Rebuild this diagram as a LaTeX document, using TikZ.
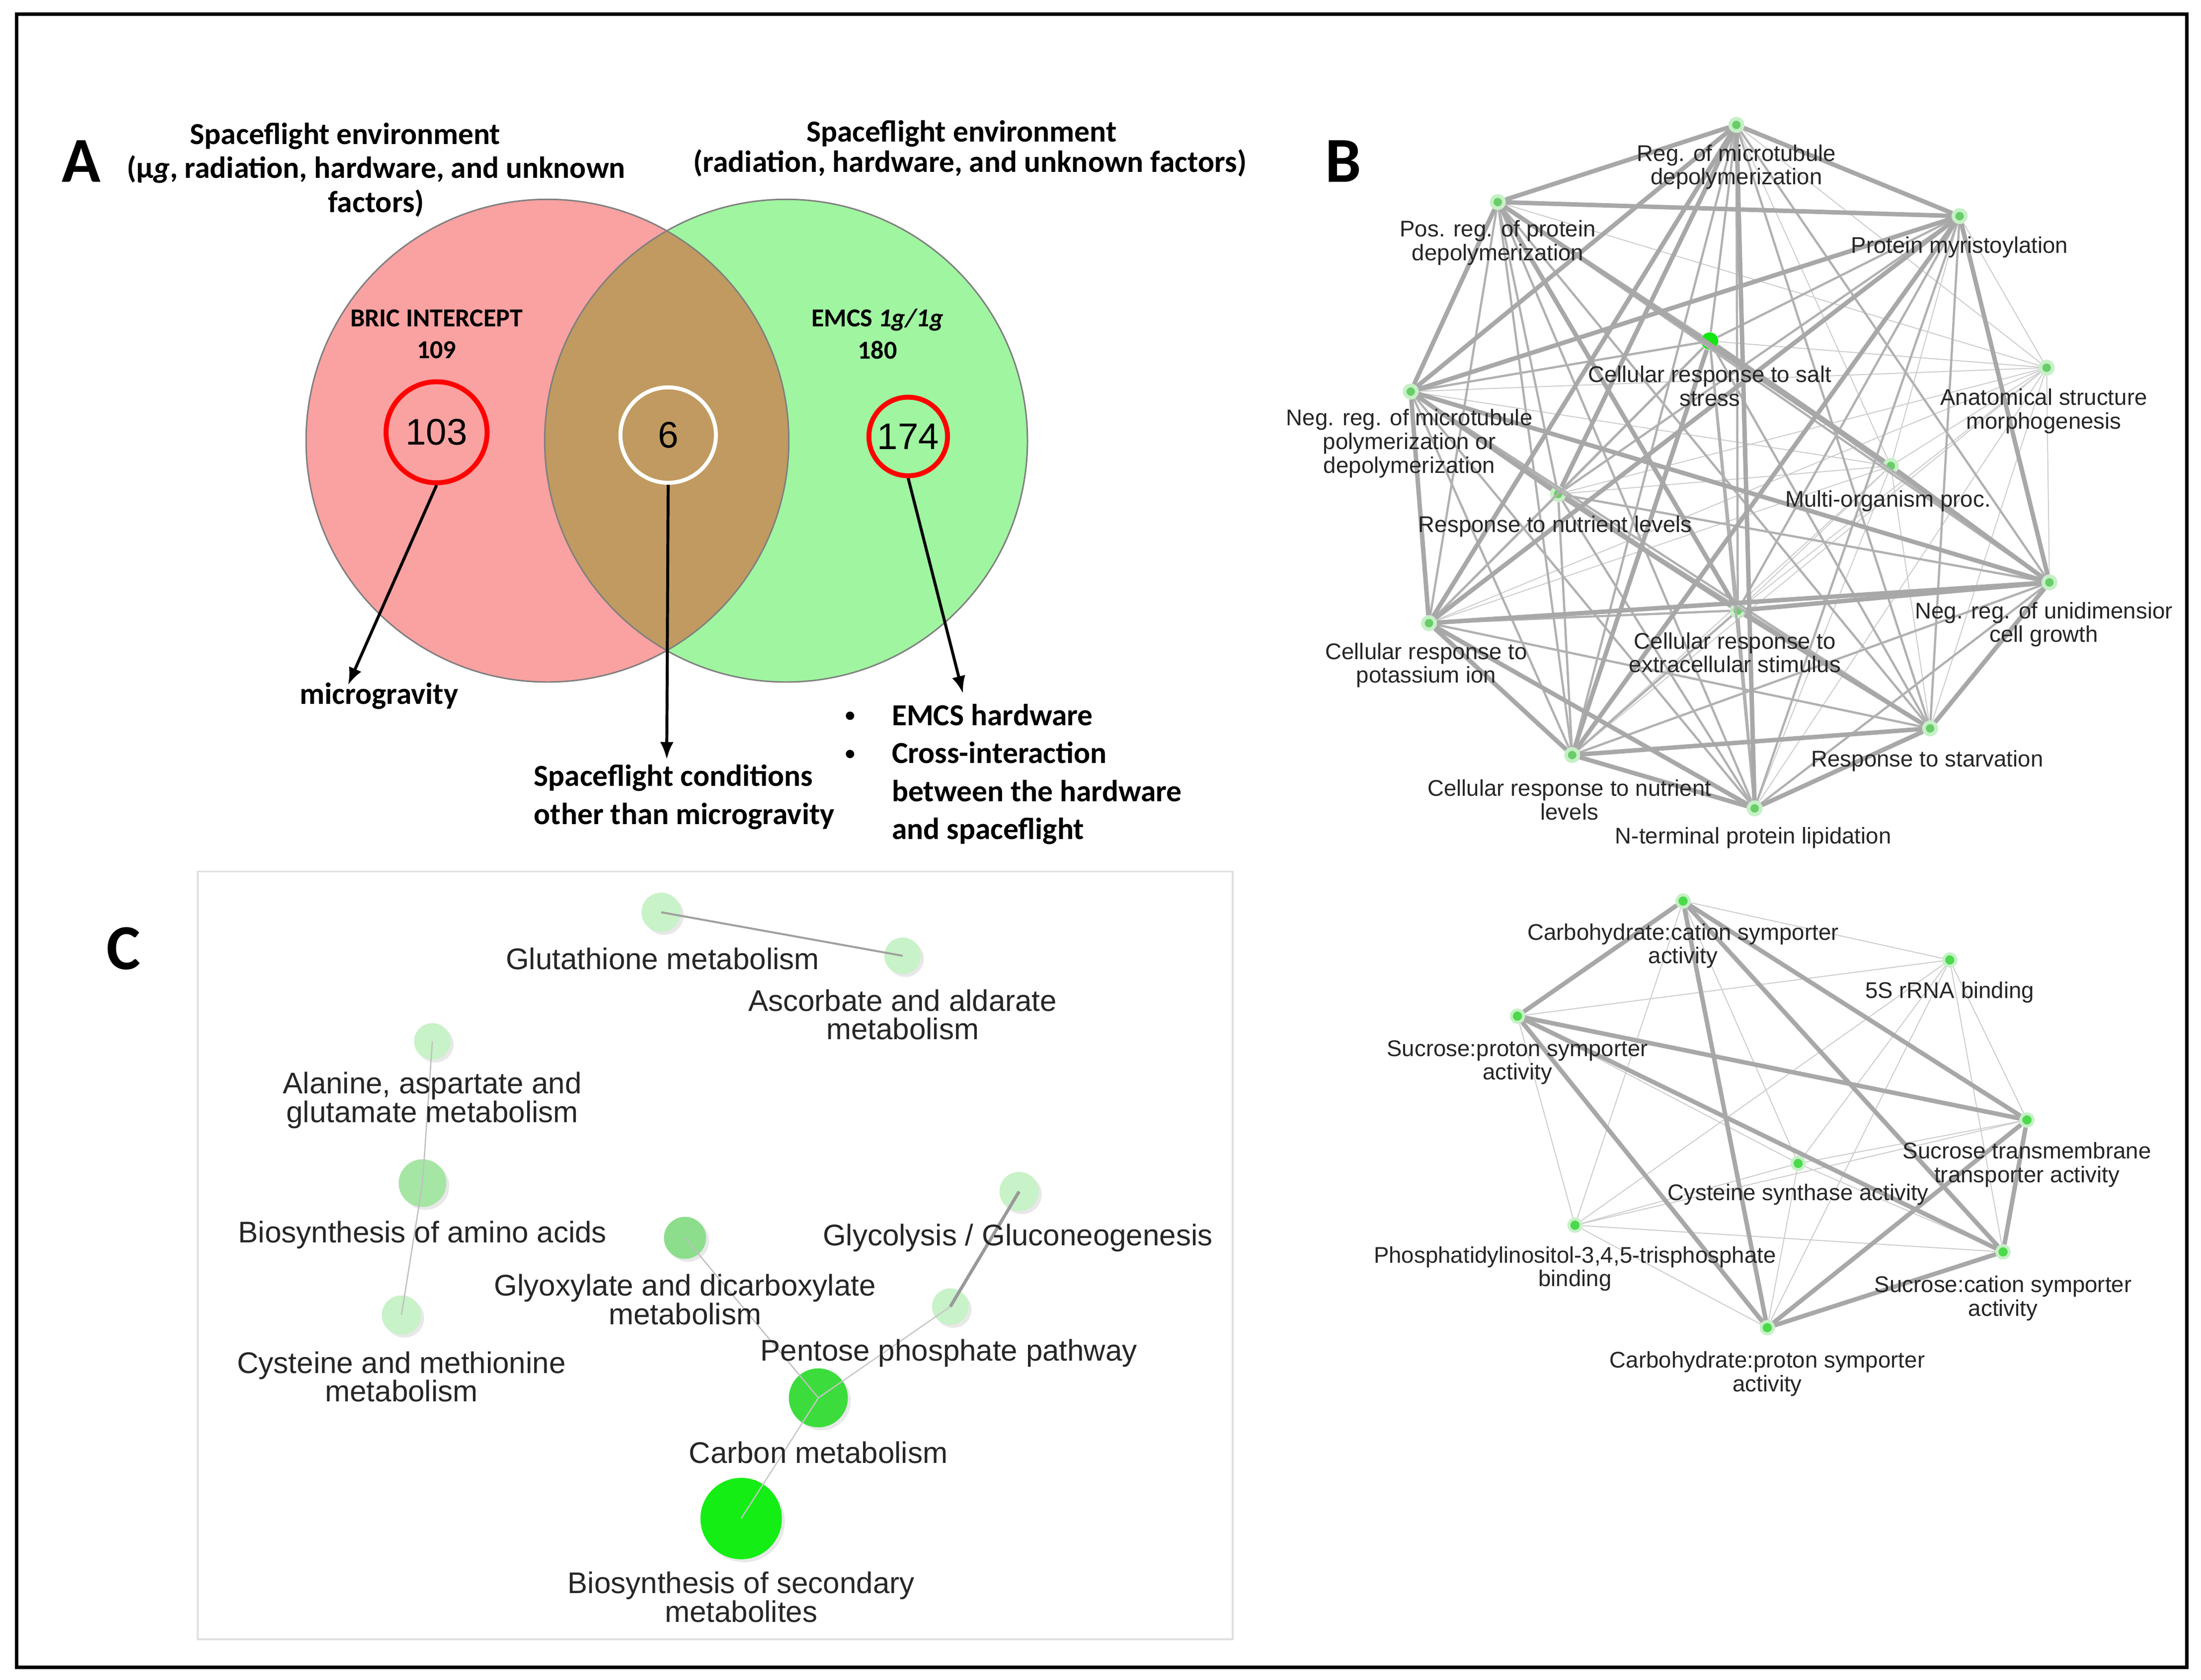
\documentclass[tikz,border=0pt]{standalone}
\usepackage{fontspec}
\setmainfont{Liberation Sans}
\newfontfamily\calib{Carlito}
\usetikzlibrary{arrows.meta,shadows}
\definecolor{venred}{RGB}{250,161,161}
\definecolor{vengreen}{RGB}{160,245,160}
\definecolor{ventan}{RGB}{192,154,96}
\definecolor{edgegray}{RGB}{168,168,168}
\definecolor{thingray}{RGB}{205,205,205}
\definecolor{dotgreen}{RGB}{105,205,105}
\definecolor{halogreen}{RGB}{198,240,198}
\definecolor{saltgreen}{RGB}{20,230,20}
\definecolor{molgreen}{RGB}{75,218,75}
\definecolor{palegreen}{RGB}{200,242,200}
\newcommand{\smallbul}{\raisebox{0.12em}{\fontsize{8}{8}\selectfont\textbullet}}
\tikzset{
	gonode/.style={circle, fill=dotgreen, draw=halogreen, line width=1.5pt, minimum size=5pt, inner sep=0pt},
	saltnode/.style={circle, fill=saltgreen, minimum size=7pt, inner sep=0pt},
	molnode/.style={circle, fill=molgreen, draw=halogreen, line width=1.2pt, minimum size=5pt, inner sep=0pt},
	keggnode/.style={circle, inner sep=0pt, drop shadow={shadow xshift=1.2pt, shadow yshift=-1.2pt, opacity=0.18}},
	thickedge/.style={draw=edgegray, line width=1.8pt},
	midedge/.style={draw=edgegray!90!white, line width=0.9pt},
	thinedge/.style={draw=thingray, line width=0.4pt},
	blbl/.style={align=center, inner sep=0pt, text=black!85, font=\fontsize{9.2}{9.6}\selectfont},
	clbl/.style={align=center, inner sep=0pt, text=black!85, font=\fontsize{12.1}{11.6}\selectfont},
	abold/.style={inner sep=0pt, font=\calib\bfseries\fontsize{12.4}{15.4}\selectfont},
	ring/.style={circle, inner sep=0pt, font=\fontsize{15}{15}\selectfont},
	letter/.style={inner sep=0pt, font=\calib\bfseries\fontsize{26}{26}\selectfont}
}
\begin{document}
\begin{tikzpicture}[x=0.02cm, y=-0.02cm]
	\useasboundingbox (0,0) rectangle (1568,1197);
	\draw[line width=1.4pt] (12,10) rectangle (1558,1188);

	%Venn
	\fill[venred] (390,314) circle[radius=3.44cm];
	\fill[vengreen] (560,314) circle[radius=3.44cm];
	\begin{scope}
		\clip (390,314) circle[radius=3.44cm];
		\fill[ventan] (560,314) circle[radius=3.44cm];
	\end{scope}
	\draw[gray, line width=0.6pt] (390,314) circle[radius=3.44cm];
	\draw[gray, line width=0.6pt] (560,314) circle[radius=3.44cm];

	\node[letter] at (58,115) (la) {A};
	\node[letter] at (957,115) (lb) {B};
	\node[letter] at (88,676) (lc) {C};

	\node[abold, align=center, font=\calib\bfseries\fontsize{12.4}{13.8}\selectfont] at (268,121) (ltitle) {Spaceflight environment\hspace*{0.88cm}\\(µ\textit{g}, radiation, hardware, and unknown\\factors)};
	\node[abold, align=center, font=\calib\bfseries\fontsize{12.4}{11.2}\selectfont] at (691,106) (rtitle) {Spaceflight environment\hspace*{0.24cm}\\(radiation, hardware, and unknown factors)};
	\node[abold, align=center, font=\calib\bfseries\fontsize{10.5}{13}\selectfont] at (311,238) (bric) {BRIC INTERCEPT\\109};
	\node[abold, align=center, font=\calib\bfseries\fontsize{10.5}{13}\selectfont] at (625,238) (emcs) {EMCS \textit{1g/1g}\\180};

	\node[ring, draw=red, line width=2pt, minimum size=1.44cm] at (311,308) (r103) {103};
	\node[ring, draw=white, line width=1.6pt, minimum size=1.36cm] at (476,310) (r6) {6};
	\node[ring, draw=red, line width=2pt, minimum size=1.12cm] at (647,311) (r174) {174};

	%text
	\node[abold] at (270,496) (micro) {microgravity};
	\node[abold, align=left, anchor=west] at (380,568) (other) {Spaceflight conditions\\other than microgravity};
	\node[abold, anchor=west] at (602,552) (hw) {\begin{tabular}{@{}l@{\hspace{0.52cm}}l@{}}\smallbul & EMCS hardware\\ \smallbul & Cross-interaction\\ & between the hardware\\ & and spaceflight\end{tabular}};

	\coordinate (microtip) at (248,488);
	\coordinate (othertip) at (475,541);
	\coordinate (hwtip) at (686,494);
	\draw[-{Latex[length=7pt,width=5.5pt]}, very thick] (r103.south) -- (microtip);
	\draw[-{Latex[length=7pt,width=5.5pt]}, very thick] (r6.south) -- (othertip);
	\draw[-{Latex[length=7pt,width=5.5pt]}, very thick] (r174.south) -- (hwtip);

	%B, biological process
	\node[gonode] at (1237,89) (rmt) {};
	\node[gonode] at (1067,144) (prp) {};
	\node[gonode] at (1396,154) (myr) {};
	\node[saltnode] at (1218,243) (salt) {};
	\node[gonode] at (1458,262) (anat) {};
	\node[gonode] at (1005,279) (nmt) {};
	\node[gonode] at (1347,332) (multi) {};
	\node[gonode] at (1110,352) (rnl) {};
	\node[gonode] at (1460,415) (nug) {};
	\node[gonode] at (1018,444) (pot) {};
	\node[gonode] at (1238,435) (ext) {};
	\node[gonode] at (1375,519) (starv) {};
	\node[gonode] at (1120,538) (crn) {};
	\node[gonode] at (1250,576) (nterm) {};

	\path[thinedge] (anat) edge (rmt) edge (prp) edge (myr) edge (salt) edge (nmt) edge (multi) edge (rnl) edge (nug) edge (pot) edge (ext) edge (starv) edge (crn) edge (nterm);
	\path[thinedge] (multi) edge (rmt) edge (prp) edge (myr) edge (salt) edge (nmt) edge (rnl) edge (nug) edge (pot) edge (ext) edge (starv) edge (crn) edge (nterm);
	\path[midedge] (rmt) edge (prp) edge (myr) edge (salt) edge (nmt) edge (rnl) edge (nug) edge (pot) edge (ext) edge (starv) edge (crn) edge (nterm);
	\path[midedge] (prp) edge (myr) edge (salt) edge (nmt) edge (rnl) edge (nug) edge (pot) edge (ext) edge (starv) edge (crn) edge (nterm);
	\path[midedge] (myr) edge (salt) edge (nmt) edge (rnl) edge (nug) edge (pot) edge (ext) edge (starv) edge (crn) edge (nterm);
	\path[midedge] (salt) edge (nmt) edge (rnl) edge (nug) edge (pot) edge (ext) edge (starv) edge (crn) edge (nterm);
	\path[midedge] (nmt) edge (rnl) edge (nug) edge (pot) edge (ext) edge (starv) edge (crn) edge (nterm);
	\path[midedge] (rnl) edge (nug) edge (pot) edge (ext) edge (starv) edge (crn) edge (nterm);
	\path[midedge] (nug) edge (pot) edge (ext) edge (starv) edge (crn) edge (nterm);
	\path[midedge] (pot) edge (ext) edge (starv) edge (crn) edge (nterm);
	\path[midedge] (ext) edge (starv) edge (crn) edge (nterm);
	\path[midedge] (starv) edge (crn) edge (nterm);
	\path[midedge] (crn) edge (nterm);
	\path[thickedge] (rmt) edge (prp) edge (myr) edge (nmt) edge (pot) edge (nterm) edge (rnl);
	\path[thickedge] (prp) edge (myr) edge (nmt) edge (multi) edge (ext);
	\path[thickedge] (myr) edge (nmt) edge (nug) edge (pot) edge (crn);
	\path[thickedge] (nmt) edge (pot) edge (nug) edge (rnl);
	\path[thickedge] (pot) edge (crn) edge (nug) edge (nterm);
	\path[thickedge] (crn) edge (nterm) edge (starv);
	\path[thickedge] (starv) edge (nterm) edge (nug);
	\path[thickedge] (rnl) edge (ext);
	\path[thickedge] (ext) edge (starv) edge (nug);
	\path[thickedge] (salt) edge (multi) edge (crn);
	\path[thickedge] (multi) edge (nug);

	\node[blbl] at (1237,119) (rmtl) {Reg. of microtubule\\depolymerization};
	\node[blbl] at (1067,173) (prpl) {Pos. reg. of protein\\depolymerization};
	\node[blbl] at (1396,176) (myrl) {Protein myristoylation};
	\node[blbl] at (1218,275) (saltl) {Cellular response to salt\\stress};
	\node[blbl] at (1456,293) (anatl) {Anatomical structure\\morphogenesis};
	\node[blbl] at (1004,316) (nmtl) {Neg. reg. of microtubule\\polymerization or\\depolymerization};
	\node[blbl] at (1345,357) (multil) {Multi-organism proc.};
	\node[blbl] at (1108,375) (rnll) {Response to nutrient levels};
	\node[blbl] at (1456,445) (nugl) {Neg. reg. of unidimensior\\cell growth};
	\node[blbl] at (1016,474) (potl) {Cellular response to\\potassium ion};
	\node[blbl] at (1236,465) (extl) {Cellular response to\\extracellular stimulus};
	\node[blbl] at (1373,542) (starvl) {Response to starvation};
	\node[blbl] at (1118,570) (crnl) {Cellular response to nutrient\\levels};
	\node[blbl] at (1249,597) (nterml) {N-terminal protein lipidation};

	%B, molecular function
	\node[molnode] at (1199,642) (cca) {};
	\node[molnode] at (1389,684) (rrna) {};
	\node[molnode] at (1081,724) (spa) {};
	\node[molnode] at (1444,798) (stt) {};
	\node[molnode] at (1281,829) (cys) {};
	\node[molnode] at (1122,873) (pip) {};
	\node[molnode] at (1427,892) (sca) {};
	\node[molnode] at (1259,946) (cpa) {};

	\path[thinedge] (rrna) edge (cca) edge (spa) edge (stt) edge (cys) edge (pip) edge (sca) edge (cpa);
	\path[thinedge] (cys) edge (cca) edge (spa) edge (stt) edge (pip) edge (sca) edge (cpa);
	\path[thinedge] (pip) edge (cca) edge (spa) edge (stt) edge (sca) edge (cpa);
	\path[thickedge] (cca) edge (spa) edge (stt) edge (sca) edge (cpa);
	\path[thickedge] (spa) edge (stt) edge (sca) edge (cpa);
	\path[thickedge] (stt) edge (sca) edge (cpa);
	\path[thickedge] (sca) edge (cpa);

	\node[blbl] at (1199,674) (ccal) {Carbohydrate:cation symporter\\activity};
	\node[blbl] at (1389,707) (rrnal) {5S rRNA binding};
	\node[blbl] at (1081,757) (spal) {Sucrose:proton symporter\\activity};
	\node[blbl] at (1444,830) (sttl) {Sucrose transmembrane\\transporter activity};
	\node[blbl] at (1281,851) (cysl) {Cysteine synthase activity};
	\node[blbl] at (1122,904) (pipl) {Phosphatidylinositol-3,4,5-trisphosphate\\binding};
	\node[blbl] at (1427,925) (scal) {Sucrose:cation symporter\\activity};
	\node[blbl] at (1259,979) (cpal) {Carbohydrate:proton symporter\\activity};

	%C, pathways
	\draw[black!12, line width=0.8pt] (141,621) rectangle (878,1168);

	\node[keggnode, fill=palegreen, minimum size=0.56cm] at (471,650) (glut) {};
	\node[keggnode, fill=palegreen, minimum size=0.52cm] at (643,681) (asc) {};
	\node[keggnode, fill=palegreen, minimum size=0.52cm] at (308,742) (ala) {};
	\node[keggnode, fill={rgb,255:red,165;green,230;blue,165}, minimum size=0.68cm] at (301,843) (bioaa) {};
	\node[keggnode, fill={rgb,255:red,140;green,222;blue,140}, minimum size=0.6cm] at (488,882) (glyox) {};
	\node[keggnode, fill=palegreen, minimum size=0.56cm] at (726,849) (glyc) {};
	\node[keggnode, fill=palegreen, minimum size=0.56cm] at (286,937) (cysm) {};
	\node[keggnode, fill=palegreen, minimum size=0.52cm] at (677,931) (pent) {};
	\node[keggnode, fill={rgb,255:red,60;green,220;blue,60}, minimum size=0.84cm] at (583,996) (carb) {};
	\node[keggnode, fill={rgb,255:red,20;green,238;blue,20}, minimum size=1.16cm] at (528,1082) (biosec) {};

	\draw[gray!75, line width=0.8pt] (glut.center) -- (asc.center);
	\draw[gray!50, line width=0.5pt] (ala.center) -- (bioaa.center) -- (cysm.center);
	\draw[gray!50, line width=0.5pt] (glyox.center) -- (carb.center);
	\draw[gray!80, line width=1.3pt] (glyc.center) -- (pent.center);
	\draw[gray!45, line width=0.5pt] (pent.center) -- (carb.center) -- (biosec.center);

	\node[clbl] at (472,683) (glutl) {Glutathione metabolism};
	\node[clbl] at (643,723) (ascl) {Ascorbate and aldarate\\metabolism};
	\node[clbl] at (308,784) (alal) {Alanine, aspartate and\\glutamate metabolism};
	\node[clbl] at (301,880) (bioaal) {Biosynthesis of amino acids};
	\node[clbl] at (488,926) (glyoxl) {Glyoxylate and dicarboxylate\\metabolism};
	\node[clbl] at (725,882) (glycl) {Glycolysis / Gluconeogenesis};
	\node[clbl] at (286,981) (cysml) {Cysteine and methionine\\metabolism};
	\node[clbl] at (676,964) (pentl) {Pentose phosphate pathway};
	\node[clbl] at (583,1035) (carbl) {Carbon metabolism};
	\node[clbl] at (528,1138) (biosecl) {Biosynthesis of secondary\\metabolites};
\end{tikzpicture}
\end{document}
